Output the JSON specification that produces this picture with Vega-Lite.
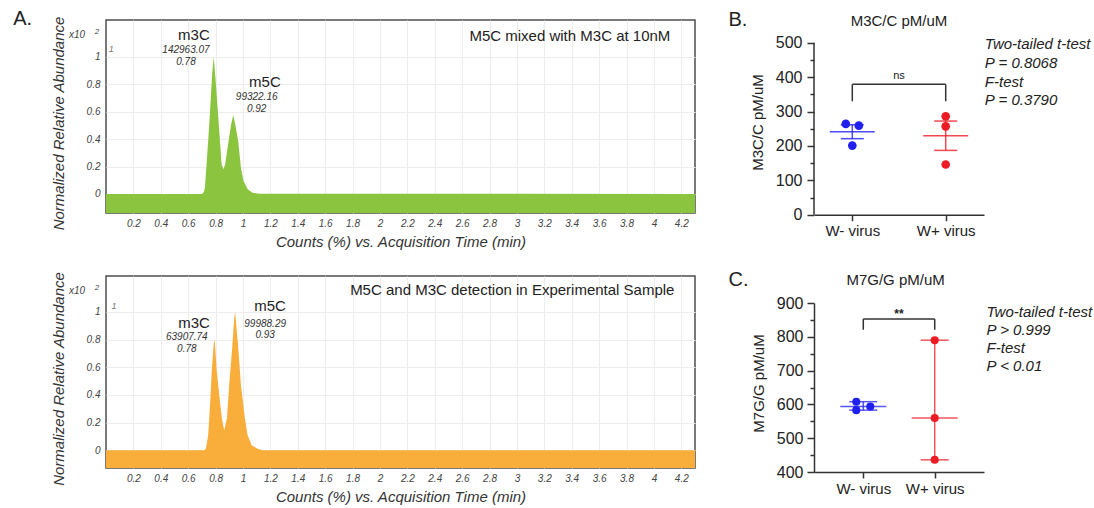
{
  "$schema": "https://vega.github.io/schema/vega-lite/v6.json",
  "padding": {"left": 12, "top": 8, "right": 0, "bottom": 0},
  "config": {
    "font": "Liberation Sans",
    "view": {"stroke": null},
    "axis": {"labelFont": "Liberation Sans", "titleFont": "Liberation Sans", "titleFontWeight": "normal", "labelOverlap": false},
    "text": {"font": "Liberation Sans"}
  },
  "datasets": {
    "standard": [
      {"sample": "M5C mixed with M3C at 10nM", "time": 0, "abundance": 0},
      {"sample": "M5C mixed with M3C at 10nM", "time": 0.7, "abundance": 0},
      {"sample": "M5C mixed with M3C at 10nM", "time": 0.715, "abundance": 0.015},
      {"sample": "M5C mixed with M3C at 10nM", "time": 0.722, "abundance": 0.046},
      {"sample": "M5C mixed with M3C at 10nM", "time": 0.729, "abundance": 0.144},
      {"sample": "M5C mixed with M3C at 10nM", "time": 0.746, "abundance": 0.387},
      {"sample": "M5C mixed with M3C at 10nM", "time": 0.761, "abundance": 0.63},
      {"sample": "M5C mixed with M3C at 10nM", "time": 0.775, "abundance": 0.874},
      {"sample": "M5C mixed with M3C at 10nM", "time": 0.786, "abundance": 1.0},
      {"sample": "M5C mixed with M3C at 10nM", "time": 0.797, "abundance": 0.874},
      {"sample": "M5C mixed with M3C at 10nM", "time": 0.815, "abundance": 0.63},
      {"sample": "M5C mixed with M3C at 10nM", "time": 0.832, "abundance": 0.387},
      {"sample": "M5C mixed with M3C at 10nM", "time": 0.844, "abundance": 0.217},
      {"sample": "M5C mixed with M3C at 10nM", "time": 0.858, "abundance": 0.18},
      {"sample": "M5C mixed with M3C at 10nM", "time": 0.87, "abundance": 0.217},
      {"sample": "M5C mixed with M3C at 10nM", "time": 0.895, "abundance": 0.387},
      {"sample": "M5C mixed with M3C at 10nM", "time": 0.912, "abundance": 0.5},
      {"sample": "M5C mixed with M3C at 10nM", "time": 0.929, "abundance": 0.577},
      {"sample": "M5C mixed with M3C at 10nM", "time": 0.945, "abundance": 0.5},
      {"sample": "M5C mixed with M3C at 10nM", "time": 0.965, "abundance": 0.387},
      {"sample": "M5C mixed with M3C at 10nM", "time": 0.985, "abundance": 0.192},
      {"sample": "M5C mixed with M3C at 10nM", "time": 1.004, "abundance": 0.095},
      {"sample": "M5C mixed with M3C at 10nM", "time": 1.034, "abundance": 0.034},
      {"sample": "M5C mixed with M3C at 10nM", "time": 1.07, "abundance": 0.008},
      {"sample": "M5C mixed with M3C at 10nM", "time": 1.12, "abundance": 0.002},
      {"sample": "M5C mixed with M3C at 10nM", "time": 4.3, "abundance": 0}
    ],
    "experimental": [
      {"sample": "Experimental Sample", "time": 0, "abundance": 0},
      {"sample": "Experimental Sample", "time": 0.715, "abundance": 0},
      {"sample": "Experimental Sample", "time": 0.729, "abundance": 0.012},
      {"sample": "Experimental Sample", "time": 0.746, "abundance": 0.108},
      {"sample": "Experimental Sample", "time": 0.761, "abundance": 0.349},
      {"sample": "Experimental Sample", "time": 0.773, "abundance": 0.59},
      {"sample": "Experimental Sample", "time": 0.786, "abundance": 0.76},
      {"sample": "Experimental Sample", "time": 0.79, "abundance": 0.795},
      {"sample": "Experimental Sample", "time": 0.795, "abundance": 0.78},
      {"sample": "Experimental Sample", "time": 0.807, "abundance": 0.59},
      {"sample": "Experimental Sample", "time": 0.832, "abundance": 0.349},
      {"sample": "Experimental Sample", "time": 0.846, "abundance": 0.229},
      {"sample": "Experimental Sample", "time": 0.863, "abundance": 0.145},
      {"sample": "Experimental Sample", "time": 0.883, "abundance": 0.229},
      {"sample": "Experimental Sample", "time": 0.899, "abundance": 0.47},
      {"sample": "Experimental Sample", "time": 0.919, "abundance": 0.711},
      {"sample": "Experimental Sample", "time": 0.936, "abundance": 0.952},
      {"sample": "Experimental Sample", "time": 0.943, "abundance": 1.0},
      {"sample": "Experimental Sample", "time": 0.968, "abundance": 0.711},
      {"sample": "Experimental Sample", "time": 0.985, "abundance": 0.47},
      {"sample": "Experimental Sample", "time": 1.014, "abundance": 0.229},
      {"sample": "Experimental Sample", "time": 1.034, "abundance": 0.108},
      {"sample": "Experimental Sample", "time": 1.063, "abundance": 0.036},
      {"sample": "Experimental Sample", "time": 1.106, "abundance": 0.012},
      {"sample": "Experimental Sample", "time": 1.143, "abundance": 0},
      {"sample": "Experimental Sample", "time": 4.3, "abundance": 0}
    ],
    "m3c": [
      {"group": "W- virus", "rep": 1, "value": 264},
      {"group": "W- virus", "rep": 2, "value": 259},
      {"group": "W- virus", "rep": 3, "value": 201},
      {"group": "W+ virus", "rep": 1, "value": 286},
      {"group": "W+ virus", "rep": 2, "value": 257},
      {"group": "W+ virus", "rep": 3, "value": 146}
    ],
    "m7g": [
      {"group": "W- virus", "rep": 1, "value": 608},
      {"group": "W- virus", "rep": 2, "value": 583},
      {"group": "W- virus", "rep": 3, "value": 594},
      {"group": "W+ virus", "rep": 1, "value": 790},
      {"group": "W+ virus", "rep": 2, "value": 560},
      {"group": "W+ virus", "rep": 3, "value": 436}
    ]
  },
  "spacing": 32,
  "hconcat": [
    {
      "spacing": 20,
      "vconcat": [
        {
          "width": 589,
          "height": 193,
          "view": {"stroke": "#4d4d4d", "strokeWidth": 1.5},
          "layer": [
            {
              "data": {"name": "standard"},
              "mark": {"type": "area", "color": "#8bc53f"},
              "encoding": {
                "x": {"field": "time", "type": "quantitative", "scale": {"domain": [0, 4.3], "nice": false, "zero": false},
                  "axis": {"values": [0.2, 0.4, 0.6, 0.8, 1, 1.2, 1.4, 1.6, 1.8, 2, 2.2, 2.4, 2.6, 2.8, 3, 3.2, 3.4, 3.6, 3.8, 4, 4.2], "tickCount": 100, "format": "~g", "labelOverlap": false, "ticks": false, "domain": false, "grid": true, "gridColor": "#ededed", "labelFontSize": 10, "labelFontStyle": "italic", "labelColor": "#444", "labelPadding": 5, "title": "Counts (%) vs. Acquisition Time (min)", "titleFontSize": 15, "titleFontStyle": "italic", "titleColor": "#333", "titlePadding": 6}},
                "y": {"field": "abundance", "type": "quantitative", "scale": {"domain": [-0.139, 1.27], "nice": false, "zero": false},
                  "axis": {"values": [0, 0.2, 0.4, 0.6, 0.8, 1], "tickCount": 100, "format": "~g", "labelOverlap": false, "ticks": false, "domain": false, "grid": true, "gridColor": "#ededed", "labelFontSize": 10, "labelFontStyle": "italic", "labelColor": "#444", "labelPadding": 6, "title": "Normalized Relative Abundance", "titleFontSize": 15, "titleFontStyle": "italic", "titleColor": "#333", "titlePadding": 20, "titleY": 103}},
                "y2": {"datum": -0.139}
              }
            },
            {
              "data": {"values": [{}]},
              "layer": [
                {"mark": {"type": "text", "text": "A.", "fontSize": 20, "align": "left", "color": "#222"}, "encoding": {"x": {"datum": -0.678}, "y": {"datum": 1.277}}},
                {"mark": {"type": "text", "text": "x10", "fontSize": 10, "fontStyle": "italic", "align": "right", "color": "#444"}, "encoding": {"x": {"datum": -0.153}, "y": {"datum": 1.16}}},
                {"mark": {"type": "text", "text": "2", "fontSize": 8, "fontStyle": "italic", "align": "center", "color": "#444"}, "encoding": {"x": {"datum": -0.066}, "y": {"datum": 1.18}}},
                {"mark": {"type": "text", "text": "1", "fontSize": 9, "fontStyle": "italic", "align": "left", "color": "#777"}, "encoding": {"x": {"datum": 0.02}, "y": {"datum": 1.06}}},
                {"mark": {"type": "text", "text": "M5C mixed with M3C at 10nM", "fontSize": 15, "align": "right", "color": "#222"}, "encoding": {"x": {"datum": 4.12}, "y": {"datum": 1.153}}},
                {"mark": {"type": "text", "text": "m3C", "fontSize": 15, "align": "center", "color": "#222"}, "encoding": {"x": {"datum": 0.642}, "y": {"datum": 1.16}}},
                {"mark": {"type": "text", "text": "142963.07", "fontSize": 10, "fontStyle": "italic", "align": "center", "color": "#333"}, "encoding": {"x": {"datum": 0.584}, "y": {"datum": 1.05}}},
                {"mark": {"type": "text", "text": "0.78", "fontSize": 10, "fontStyle": "italic", "align": "center", "color": "#333"}, "encoding": {"x": {"datum": 0.584}, "y": {"datum": 0.963}}},
                {"mark": {"type": "text", "text": "m5C", "fontSize": 15, "align": "center", "color": "#222"}, "encoding": {"x": {"datum": 1.16}, "y": {"datum": 0.82}}},
                {"mark": {"type": "text", "text": "99322.16", "fontSize": 10, "fontStyle": "italic", "align": "center", "color": "#333"}, "encoding": {"x": {"datum": 1.1}, "y": {"datum": 0.71}}},
                {"mark": {"type": "text", "text": "0.92", "fontSize": 10, "fontStyle": "italic", "align": "center", "color": "#333"}, "encoding": {"x": {"datum": 1.1}, "y": {"datum": 0.62}}}
              ]
            }
          ]
        },
        {
          "width": 589,
          "height": 192,
          "view": {"stroke": "#4d4d4d", "strokeWidth": 1.5},
          "layer": [
            {
              "data": {"name": "experimental"},
              "mark": {"type": "area", "color": "#f9ad3b"},
              "encoding": {
                "x": {"field": "time", "type": "quantitative", "scale": {"domain": [0, 4.3], "nice": false, "zero": false},
                  "axis": {"values": [0.2, 0.4, 0.6, 0.8, 1, 1.2, 1.4, 1.6, 1.8, 2, 2.2, 2.4, 2.6, 2.8, 3, 3.2, 3.4, 3.6, 3.8, 4, 4.2], "tickCount": 100, "format": "~g", "labelOverlap": false, "ticks": false, "domain": false, "grid": true, "gridColor": "#ededed", "labelFontSize": 10, "labelFontStyle": "italic", "labelColor": "#444", "labelPadding": 5, "title": "Counts (%) vs. Acquisition Time (min)", "titleFontSize": 15, "titleFontStyle": "italic", "titleColor": "#333", "titlePadding": 6}},
                "y": {"field": "abundance", "type": "quantitative", "scale": {"domain": [-0.128, 1.26], "nice": false, "zero": false},
                  "axis": {"values": [0, 0.2, 0.4, 0.6, 0.8, 1], "tickCount": 100, "format": "~g", "labelOverlap": false, "ticks": false, "domain": false, "grid": true, "gridColor": "#ededed", "labelFontSize": 10, "labelFontStyle": "italic", "labelColor": "#444", "labelPadding": 6, "title": "Normalized Relative Abundance", "titleFontSize": 15, "titleFontStyle": "italic", "titleColor": "#333", "titlePadding": 20, "titleY": 102.5}},
                "y2": {"datum": -0.128}
              }
            },
            {
              "data": {"values": [{}]},
              "layer": [
                {"mark": {"type": "text", "text": "x10", "fontSize": 10, "fontStyle": "italic", "align": "right", "color": "#444"}, "encoding": {"x": {"datum": -0.153}, "y": {"datum": 1.152}}},
                {"mark": {"type": "text", "text": "2", "fontSize": 8, "fontStyle": "italic", "align": "center", "color": "#444"}, "encoding": {"x": {"datum": -0.066}, "y": {"datum": 1.17}}},
                {"mark": {"type": "text", "text": "1", "fontSize": 9, "fontStyle": "italic", "align": "left", "color": "#777"}, "encoding": {"x": {"datum": 0.04}, "y": {"datum": 1.04}}},
                {"mark": {"type": "text", "text": "M5C and M3C detection in Experimental Sample", "fontSize": 15, "align": "right", "color": "#222"}, "encoding": {"x": {"datum": 4.15}, "y": {"datum": 1.159}}},
                {"mark": {"type": "text", "text": "m3C", "fontSize": 15, "align": "center", "color": "#222"}, "encoding": {"x": {"datum": 0.643}, "y": {"datum": 0.92}}},
                {"mark": {"type": "text", "text": "63907.74", "fontSize": 10, "fontStyle": "italic", "align": "center", "color": "#333"}, "encoding": {"x": {"datum": 0.59}, "y": {"datum": 0.82}}},
                {"mark": {"type": "text", "text": "0.78", "fontSize": 10, "fontStyle": "italic", "align": "center", "color": "#333"}, "encoding": {"x": {"datum": 0.59}, "y": {"datum": 0.735}}},
                {"mark": {"type": "text", "text": "m5C", "fontSize": 15, "align": "center", "color": "#222"}, "encoding": {"x": {"datum": 1.198}, "y": {"datum": 1.04}}},
                {"mark": {"type": "text", "text": "99988.29", "fontSize": 10, "fontStyle": "italic", "align": "center", "color": "#333"}, "encoding": {"x": {"datum": 1.162}, "y": {"datum": 0.915}}},
                {"mark": {"type": "text", "text": "0.93", "fontSize": 10, "fontStyle": "italic", "align": "center", "color": "#333"}, "encoding": {"x": {"datum": 1.162}, "y": {"datum": 0.836}}}
              ]
            }
          ]
        }
      ]
    },
    {
      "spacing": 30,
      "vconcat": [
        {
          "width": 170,
          "height": 194.7,
          "resolve": {"scale": {"x": "independent"}},
          "layer": [
            {
              "data": {"name": "m3c"},
              "encoding": {
                "x": {"field": "group", "type": "nominal", "sort": ["W- virus", "W+ virus"], "scale": {"type": "point", "domain": ["W- virus", "W+ virus"], "padding": 0.41},
                  "axis": {"title": null, "labelAngle": 0, "labelOverlap": false, "labelFontSize": 15, "labelColor": "#222", "labelPadding": 3, "tickSize": 6, "tickColor": "#333", "tickWidth": 1.5, "domainColor": "#333", "domainWidth": 1.5, "grid": false}},
                "y": {"field": "value", "type": "quantitative", "scale": {"domain": [0, 566.2], "nice": false},
                  "axis": {"values": [0, 50, 100, 150, 200, 250, 300, 350, 400, 450, 500], "tickCount": 100, "labelOverlap": false, "labelExpr": "datum.value % 100 === 0 ? datum.label : ''", "tickSize": {"condition": {"test": "datum.value % 100 === 0", "value": 7}, "value": 4}, "tickColor": "#333", "tickWidth": 1.5, "domain": false, "labelFontSize": 16, "labelColor": "#222", "labelPadding": 5, "title": "M3C/C pM/uM", "titleFontSize": 15, "titleColor": "#222", "titlePadding": 10, "titleY": 102, "grid": false}},
                "color": {"field": "group", "type": "nominal", "scale": {"domain": ["W- virus", "W+ virus"], "range": ["#1f1fef", "#ed1c24"]}, "legend": null}
              },
              "layer": [
                {"mark": {"type": "errorbar", "extent": "stderr", "ticks": true, "size": 23, "thickness": 1.5, "opacity": 0.8}},
                {"mark": {"type": "tick", "orient": "horizontal", "size": 45, "thickness": 1.5, "opacity": 0.8}, "encoding": {"y": {"aggregate": "mean", "field": "value", "type": "quantitative"}}},
                {"transform": [{"filter": "datum.group === 'W- virus' && datum.rep === 1"}], "mark": {"type": "point", "filled": true, "size": 75, "opacity": 1, "xOffset": -6.5}},
                {"transform": [{"filter": "datum.group === 'W- virus' && datum.rep === 2"}], "mark": {"type": "point", "filled": true, "size": 75, "opacity": 1, "xOffset": 6.5}},
                {"transform": [{"filter": "!(datum.group === 'W- virus' && datum.rep < 3)"}], "mark": {"type": "point", "filled": true, "size": 75, "opacity": 1}}
              ]
            },
            {
              "data": {"values": [{}]},
              "layer": [
                {"mark": {"type": "rule", "color": "#333", "strokeWidth": 1.5}, "encoding": {"x": {"datum": "W- virus", "type": "nominal", "scale": {"type": "point", "domain": ["W- virus", "W+ virus"], "padding": 0.41}, "axis": null}, "x2": {"datum": "W+ virus"}, "y": {"datum": 379, "type": "quantitative"}}},
                {"mark": {"type": "rule", "color": "#333", "strokeWidth": 1.5}, "encoding": {"x": {"datum": "W- virus", "type": "nominal", "scale": {"type": "point", "domain": ["W- virus", "W+ virus"], "padding": 0.41}, "axis": null}, "y": {"datum": 330, "type": "quantitative"}, "y2": {"datum": 379}}},
                {"mark": {"type": "rule", "color": "#333", "strokeWidth": 1.5}, "encoding": {"x": {"datum": "W+ virus", "type": "nominal", "scale": {"type": "point", "domain": ["W- virus", "W+ virus"], "padding": 0.41}, "axis": null}, "y": {"datum": 330, "type": "quantitative"}, "y2": {"datum": 379}}}
              ]
            },
            {
              "data": {"values": [{}]},
              "layer": [
                {"mark": {"type": "rule", "color": "#333", "strokeWidth": 1.5}, "encoding": {"x": {"datum": 0, "type": "quantitative", "scale": {"domain": [0, 1]}, "axis": null}, "y": {"datum": 0, "type": "quantitative"}, "y2": {"datum": 500}}},
                {"mark": {"type": "text", "text": "B.", "fontSize": 20, "align": "left", "color": "#222"}, "encoding": {"x": {"datum": -0.503, "type": "quantitative", "scale": {"domain": [0, 1]}, "axis": null}, "y": {"datum": 565, "type": "quantitative"}}},
                {"mark": {"type": "text", "text": "M3C/C pM/uM", "fontSize": 15, "align": "center", "color": "#222"}, "encoding": {"x": {"datum": 0.5, "type": "quantitative", "scale": {"domain": [0, 1]}, "axis": null}, "y": {"datum": 562, "type": "quantitative"}}},
                {"mark": {"type": "text", "text": "ns", "fontSize": 11, "align": "center", "color": "#222"}, "encoding": {"x": {"datum": 0.5, "type": "quantitative", "scale": {"domain": [0, 1]}, "axis": null}, "y": {"datum": 403, "type": "quantitative"}}},
                {"mark": {"type": "text", "text": "Two-tailed t-test", "fontSize": 15, "fontStyle": "italic", "align": "left", "color": "#222"}, "encoding": {"x": {"datum": 1.005, "type": "quantitative", "scale": {"domain": [0, 1]}, "axis": null}, "y": {"datum": 495, "type": "quantitative"}}},
                {"mark": {"type": "text", "text": "P = 0.8068", "fontSize": 15, "fontStyle": "italic", "align": "left", "color": "#222"}, "encoding": {"x": {"datum": 1.005, "type": "quantitative", "scale": {"domain": [0, 1]}, "axis": null}, "y": {"datum": 442, "type": "quantitative"}}},
                {"mark": {"type": "text", "text": "F-test", "fontSize": 15, "fontStyle": "italic", "align": "left", "color": "#222"}, "encoding": {"x": {"datum": 1.005, "type": "quantitative", "scale": {"domain": [0, 1]}, "axis": null}, "y": {"datum": 387, "type": "quantitative"}}},
                {"mark": {"type": "text", "text": "P = 0.3790", "fontSize": 15, "fontStyle": "italic", "align": "left", "color": "#222"}, "encoding": {"x": {"datum": 1.005, "type": "quantitative", "scale": {"domain": [0, 1]}, "axis": null}, "y": {"datum": 334, "type": "quantitative"}}}
              ]
            }
          ]
        },
        {
          "width": 170,
          "height": 169,
          "resolve": {"scale": {"x": "independent"}},
          "layer": [
            {
              "data": {"name": "m7g"},
              "encoding": {
                "x": {"field": "group", "type": "nominal", "sort": ["W- virus", "W+ virus"], "scale": {"type": "point", "domain": ["W- virus", "W+ virus"], "padding": 0.69},
                  "axis": {"title": null, "labelAngle": 0, "labelOverlap": false, "labelFontSize": 15, "labelColor": "#222", "labelPadding": 3, "tickSize": 6, "tickColor": "#333", "tickWidth": 1.5, "domainColor": "#333", "domainWidth": 1.5, "grid": false}},
                "y": {"field": "value", "type": "quantitative", "scale": {"domain": [400, 900], "nice": false, "zero": false},
                  "axis": {"values": [400, 450, 500, 550, 600, 650, 700, 750, 800, 850, 900], "tickCount": 100, "labelOverlap": false, "labelExpr": "datum.value % 100 === 0 ? datum.label : ''", "tickSize": {"condition": {"test": "datum.value % 100 === 0", "value": 7}, "value": 4}, "tickColor": "#333", "tickWidth": 1.5, "domainColor": "#333", "domainWidth": 1.5, "labelFontSize": 16, "labelColor": "#222", "labelPadding": 4, "title": "M7G/G pM/uM", "titleFontSize": 15, "titleColor": "#222", "titlePadding": 10, "titleY": 80, "grid": false}},
                "color": {"field": "group", "type": "nominal", "scale": {"domain": ["W- virus", "W+ virus"], "range": ["#1f1fef", "#ed1c24"]}, "legend": null}
              },
              "layer": [
                {"mark": {"type": "rule", "strokeWidth": 1.5, "opacity": 0.75}, "encoding": {"y": {"aggregate": "min", "field": "value", "type": "quantitative"}, "y2": {"aggregate": "max", "field": "value"}}},
                {"mark": {"type": "tick", "orient": "horizontal", "size": 28, "thickness": 1.5, "opacity": 0.75}, "encoding": {"y": {"aggregate": "min", "field": "value", "type": "quantitative"}}},
                {"mark": {"type": "tick", "orient": "horizontal", "size": 28, "thickness": 1.5, "opacity": 0.75}, "encoding": {"y": {"aggregate": "max", "field": "value", "type": "quantitative"}}},
                {"mark": {"type": "tick", "orient": "horizontal", "size": 46, "thickness": 1.5, "opacity": 0.75}, "encoding": {"y": {"aggregate": "median", "field": "value", "type": "quantitative"}}},
                {"transform": [{"filter": "datum.group === 'W- virus' && datum.rep < 3"}], "mark": {"type": "point", "filled": true, "size": 65, "opacity": 1, "xOffset": -7}},
                {"transform": [{"filter": "datum.group === 'W- virus' && datum.rep === 3"}], "mark": {"type": "point", "filled": true, "size": 65, "opacity": 1, "xOffset": 7}},
                {"transform": [{"filter": "datum.group === 'W+ virus'"}], "mark": {"type": "point", "filled": true, "size": 65, "opacity": 1}}
              ]
            },
            {
              "data": {"values": [{}]},
              "layer": [
                {"mark": {"type": "rule", "color": "#333", "strokeWidth": 1.5}, "encoding": {"x": {"datum": "W- virus", "type": "nominal", "scale": {"type": "point", "domain": ["W- virus", "W+ virus"], "padding": 0.69}, "axis": null}, "x2": {"datum": "W+ virus"}, "y": {"datum": 852.6, "type": "quantitative"}}},
                {"mark": {"type": "rule", "color": "#333", "strokeWidth": 1.5}, "encoding": {"x": {"datum": "W- virus", "type": "nominal", "scale": {"type": "point", "domain": ["W- virus", "W+ virus"], "padding": 0.69}, "axis": null}, "y": {"datum": 820.8, "type": "quantitative"}, "y2": {"datum": 852.6}}},
                {"mark": {"type": "rule", "color": "#333", "strokeWidth": 1.5}, "encoding": {"x": {"datum": "W+ virus", "type": "nominal", "scale": {"type": "point", "domain": ["W- virus", "W+ virus"], "padding": 0.69}, "axis": null}, "y": {"datum": 820.8, "type": "quantitative"}, "y2": {"datum": 852.6}}}
              ]
            },
            {
              "data": {"values": [{}]},
              "layer": [
                {"mark": {"type": "text", "text": "C.", "fontSize": 20, "align": "left", "color": "#222"}, "encoding": {"x": {"datum": -0.503, "type": "quantitative", "scale": {"domain": [0, 1]}, "axis": null}, "y": {"datum": 969, "type": "quantitative"}}},
                {"mark": {"type": "text", "text": "M7G/G pM/uM", "fontSize": 15, "align": "center", "color": "#222"}, "encoding": {"x": {"datum": 0.48, "type": "quantitative", "scale": {"domain": [0, 1]}, "axis": null}, "y": {"datum": 969, "type": "quantitative"}}},
                {"mark": {"type": "text", "text": "**", "fontSize": 12, "fontWeight": "bold", "align": "center", "color": "#222"}, "encoding": {"x": {"datum": 0.5, "type": "quantitative", "scale": {"domain": [0, 1]}, "axis": null}, "y": {"datum": 866, "type": "quantitative"}}},
                {"mark": {"type": "text", "text": "Two-tailed t-test", "fontSize": 15, "fontStyle": "italic", "align": "left", "color": "#222"}, "encoding": {"x": {"datum": 1.015, "type": "quantitative", "scale": {"domain": [0, 1]}, "axis": null}, "y": {"datum": 874, "type": "quantitative"}}},
                {"mark": {"type": "text", "text": "P > 0.999", "fontSize": 15, "fontStyle": "italic", "align": "left", "color": "#222"}, "encoding": {"x": {"datum": 1.015, "type": "quantitative", "scale": {"domain": [0, 1]}, "axis": null}, "y": {"datum": 821, "type": "quantitative"}}},
                {"mark": {"type": "text", "text": "F-test", "fontSize": 15, "fontStyle": "italic", "align": "left", "color": "#222"}, "encoding": {"x": {"datum": 1.015, "type": "quantitative", "scale": {"domain": [0, 1]}, "axis": null}, "y": {"datum": 766.6, "type": "quantitative"}}},
                {"mark": {"type": "text", "text": "P < 0.01", "fontSize": 15, "fontStyle": "italic", "align": "left", "color": "#222"}, "encoding": {"x": {"datum": 1.015, "type": "quantitative", "scale": {"domain": [0, 1]}, "axis": null}, "y": {"datum": 714, "type": "quantitative"}}}
              ]
            }
          ]
        }
      ]
    }
  ]
}
